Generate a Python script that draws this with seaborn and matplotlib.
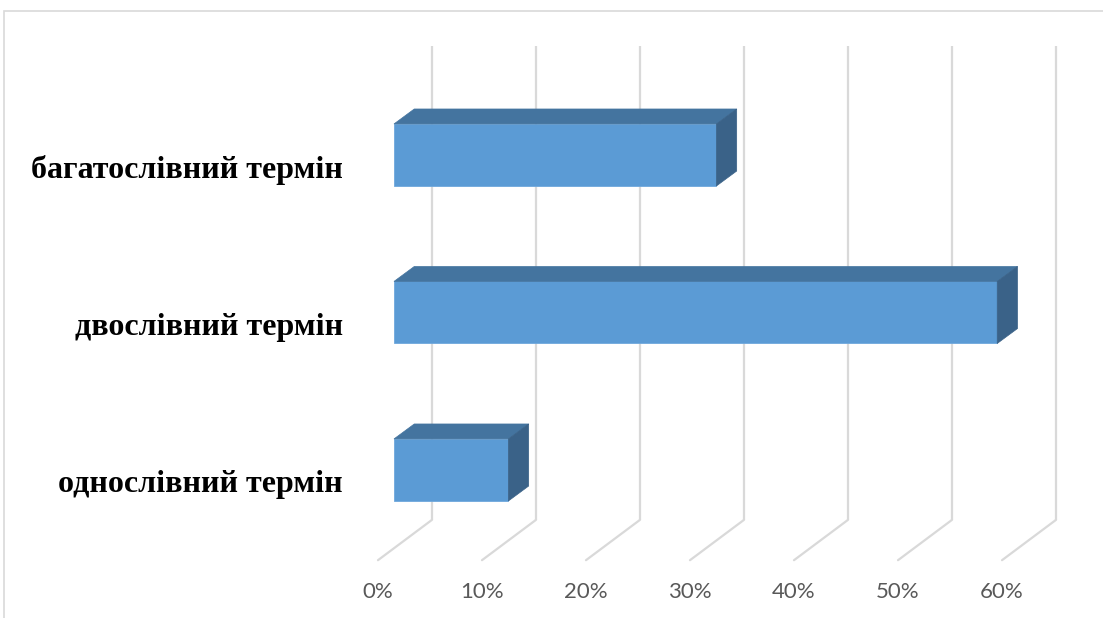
import matplotlib
matplotlib.use("Agg")
import matplotlib.pyplot as plt
import seaborn as sns
from matplotlib.patches import Polygon, Rectangle

# data
categories = ["багатослівний термін", "двослівний термін", "однослівний термін"]
values = [31, 58, 11]
ticks = [0, 10, 20, 30, 40, 50, 60]
tick_labels = ["0%", "10%", "20%", "30%", "40%", "50%", "60%"]

# colours
front = "#5B9BD5"
top = "#44749F"
side = "#3A6288"
grid = "#D9D9D9"

sns.set_style("white")

fig = plt.figure(figsize=(11.03, 6.18), dpi=100)
ax = fig.add_axes([0, 0, 1, 1])

sns.barplot(x=values, y=categories, orient="h", width=0.394, color=front,
            saturation=1, edgecolor="#6FA8DC", linewidth=0.6, ax=ax, zorder=3)

# 3D depth of the bars (in data units) and of the back wall / floor
DX, DY = 1.95, 0.095
BACK_X, BACK_Y = 3.65, 0.18
FRONT_X, FRONT_Y = -1.54, -0.076
floor_back = 2.317
grid_top = -0.692

# gridlines: back wall + floor diagonal
for t in ticks:
    xb = t + BACK_X
    ax.plot([xb, xb], [grid_top, floor_back], color=grid, lw=1.6, zorder=1,
            solid_capstyle="butt")
    ax.plot([xb, t + FRONT_X], [floor_back, floor_back + BACK_Y - FRONT_Y],
            color=grid, lw=1.6, zorder=1)

# top and side faces from the seaborn bars
for p in ax.patches[:len(values)]:
    x0, w = p.get_x(), p.get_width()
    y0, h = p.get_y(), p.get_height()
    yt, yb = min(y0, y0 + h), max(y0, y0 + h)
    x1 = x0 + w
    ax.add_patch(Polygon([(x0, yt), (x1, yt), (x1 + DX, yt - DY), (x0 + DX, yt - DY)],
                         closed=True, facecolor=top, edgecolor=top, lw=0.5, zorder=3))
    ax.add_patch(Polygon([(x1, yt), (x1, yb), (x1 + DX, yb - DY), (x1 + DX, yt - DY)],
                         closed=True, facecolor=side, edgecolor=side, lw=0.5, zorder=3))

# category labels
for i, c in enumerate(categories):
    ax.text(-4.9, i + 0.095, c, ha="right", va="center", fontsize=23,
            fontweight="bold", family="Liberation Serif", color="black")

# tick labels
for t, lab in zip(ticks, tick_labels):
    ax.text(t + FRONT_X, 2.775, lab, ha="center", va="center", fontsize=16,
            family="Lato", color="#595959")

ax.set_xlim(-37.88, 68.17)
ax.set_ylim(2.940, -0.984)
ax.axis("off")

# chart border
fig.patches.append(Rectangle((4 / 1103, -0.1), 1.2, 1 - 11 / 618 + 0.1,
                             transform=fig.transFigure, fill=False,
                             edgecolor="#D9D9D9", lw=1.2))

fig.savefig("out.png", dpi=100)
